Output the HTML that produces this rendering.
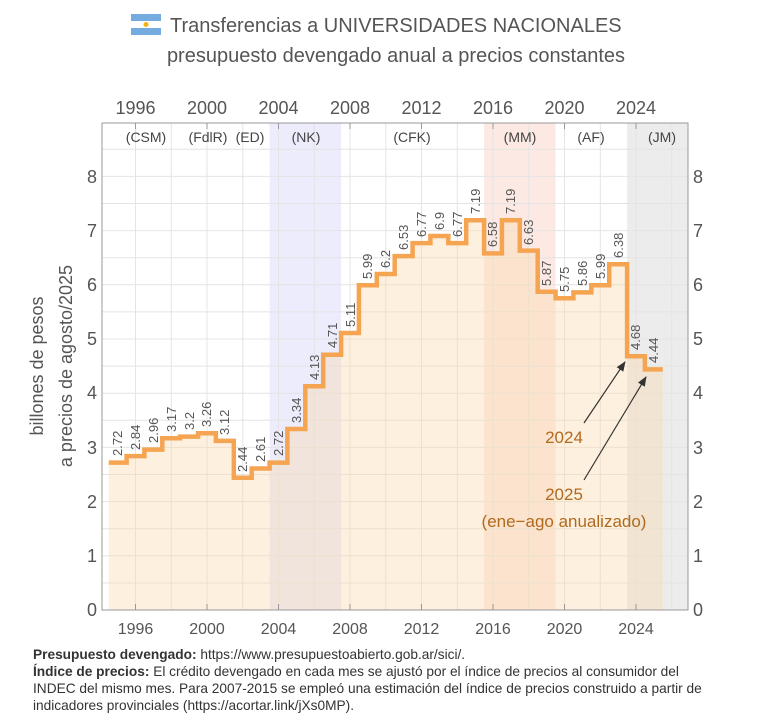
<!DOCTYPE html>
<html><head><meta charset="utf-8"><style>
body{margin:0;background:#fff;}
svg{display:block;font-family:"Liberation Sans",sans-serif;}
</style></head><body>
<svg width="760" height="727" viewBox="0 0 760 727" xmlns="http://www.w3.org/2000/svg">
<g>
<rect x="131" y="14" width="30" height="7" fill="#74acdf"/>
<rect x="131" y="21" width="30" height="7" fill="#fff"/>
<rect x="131" y="28" width="30" height="7" fill="#74acdf"/>
<circle cx="146" cy="24.5" r="2.5" fill="#f6b40e"/>
</g>
<text x="170" y="32" font-size="20" fill="#555">Transferencias a UNIVERSIDADES NACIONALES</text>
<text x="396" y="62" font-size="20" fill="#555" text-anchor="middle">presupuesto devengado anual a precios constantes</text>

<rect x="269.6" y="123" width="71.5" height="487" fill="#e6e6fb" opacity="0.75"/>
<rect x="484.1" y="123" width="71.5" height="487" fill="#fde3dc" opacity="0.8"/>
<rect x="627.1" y="123" width="61" height="487" fill="#e6e6e6" opacity="0.75"/>

<g stroke="#e4e4e4" stroke-width="1">
<line x1="102" x2="688" y1="583" y2="583"/><line x1="102" x2="688" y1="555.8" y2="555.8"/>
<line x1="102" x2="688" y1="528.7" y2="528.7"/><line x1="102" x2="688" y1="501.6" y2="501.6"/>
<line x1="102" x2="688" y1="474.5" y2="474.5"/><line x1="102" x2="688" y1="447.4" y2="447.4"/>
<line x1="102" x2="688" y1="420.3" y2="420.3"/><line x1="102" x2="688" y1="393.2" y2="393.2"/>
<line x1="102" x2="688" y1="366.1" y2="366.1"/><line x1="102" x2="688" y1="339" y2="339"/>
<line x1="102" x2="688" y1="311.9" y2="311.9"/><line x1="102" x2="688" y1="284.8" y2="284.8"/>
<line x1="102" x2="688" y1="257.7" y2="257.7"/><line x1="102" x2="688" y1="230.6" y2="230.6"/>
<line x1="102" x2="688" y1="203.5" y2="203.5"/><line x1="102" x2="688" y1="176.4" y2="176.4"/>
<line x1="102" x2="688" y1="149.3" y2="149.3"/>
<line y1="123" y2="610" x1="135.5" x2="135.5"/><line y1="123" y2="610" x1="171.3" x2="171.3"/>
<line y1="123" y2="610" x1="207" x2="207"/><line y1="123" y2="610" x1="242.8" x2="242.8"/>
<line y1="123" y2="610" x1="278.5" x2="278.5"/><line y1="123" y2="610" x1="314.3" x2="314.3"/>
<line y1="123" y2="610" x1="350" x2="350"/><line y1="123" y2="610" x1="385.8" x2="385.8"/>
<line y1="123" y2="610" x1="421.5" x2="421.5"/><line y1="123" y2="610" x1="457.3" x2="457.3"/>
<line y1="123" y2="610" x1="493" x2="493"/><line y1="123" y2="610" x1="528.8" x2="528.8"/>
<line y1="123" y2="610" x1="564.5" x2="564.5"/><line y1="123" y2="610" x1="600.3" x2="600.3"/>
<line y1="123" y2="610" x1="636" x2="636"/><line y1="123" y2="610" x1="671.8" x2="671.8"/>
</g>

<path d="M108.7,610 V462.6 H126.6 V456.1 H144.4 V449.6 H162.3 V438.2 H180.2 V436.6 H198.1 V433.3 H215.9 V440.9 H233.8 V477.8 H251.7 V468.5 H269.6 V462.6 H287.4 V429 H305.3 V386.2 H323.2 V354.7 H341.1 V333 H358.9 V285.3 H376.8 V274 H394.7 V256.1 H412.6 V243.1 H430.4 V236 H448.3 V243.1 H466.2 V220.3 H484.1 V253.4 H501.9 V220.3 H519.8 V250.6 H537.7 V291.8 H555.6 V298.3 H573.4 V292.4 H591.3 V285.3 H609.2 V264.2 H627.1 V356.3 H644.9 V369.4 H662.8 V610 Z" fill="#fbd9b0" opacity="0.4"/>

<rect x="102" y="123" width="586" height="487" fill="none" stroke="#999" stroke-width="1"/>
<g stroke="#999">
<line x1="135.5" x2="135.5" y1="610" y2="604"/><line x1="207" x2="207" y1="610" y2="604"/><line x1="278.5" x2="278.5" y1="610" y2="604"/><line x1="350" x2="350" y1="610" y2="604"/><line x1="421.5" x2="421.5" y1="610" y2="604"/><line x1="493" x2="493" y1="610" y2="604"/><line x1="564.5" x2="564.5" y1="610" y2="604"/><line x1="636" x2="636" y1="610" y2="604"/>
<line x1="135.5" x2="135.5" y1="123" y2="129"/><line x1="207" x2="207" y1="123" y2="129"/><line x1="278.5" x2="278.5" y1="123" y2="129"/><line x1="350" x2="350" y1="123" y2="129"/><line x1="421.5" x2="421.5" y1="123" y2="129"/><line x1="493" x2="493" y1="123" y2="129"/><line x1="564.5" x2="564.5" y1="123" y2="129"/><line x1="636" x2="636" y1="123" y2="129"/>
</g>

<path d="M108.7,462.6 H126.6 V456.1 H144.4 V449.6 H162.3 V438.2 H180.2 V436.6 H198.1 V433.3 H215.9 V440.9 H233.8 V477.8 H251.7 V468.5 H269.6 V462.6 H287.4 V429 H305.3 V386.2 H323.2 V354.7 H341.1 V333 H358.9 V285.3 H376.8 V274 H394.7 V256.1 H412.6 V243.1 H430.4 V236 H448.3 V243.1 H466.2 V220.3 H484.1 V253.4 H501.9 V220.3 H519.8 V250.6 H537.7 V291.8 H555.6 V298.3 H573.4 V292.4 H591.3 V285.3 H609.2 V264.2 H627.1 V356.3 H644.9 V369.4 H662.8" fill="none" stroke="#f5a452" stroke-width="4.5"/>

<g font-size="13" fill="#555">
<text transform="translate(122,456) rotate(-90)">2.72</text>
<text transform="translate(140,450) rotate(-90)">2.84</text>
<text transform="translate(158,443) rotate(-90)">2.96</text>
<text transform="translate(176,432) rotate(-90)">3.17</text>
<text transform="translate(194,430) rotate(-90)">3.2</text>
<text transform="translate(211,427) rotate(-90)">3.26</text>
<text transform="translate(229,435) rotate(-90)">3.12</text>
<text transform="translate(247,472) rotate(-90)">2.44</text>
<text transform="translate(265,462) rotate(-90)">2.61</text>
<text transform="translate(283,456) rotate(-90)">2.72</text>
<text transform="translate(301,423) rotate(-90)">3.34</text>
<text transform="translate(319,380) rotate(-90)">4.13</text>
<text transform="translate(337,348) rotate(-90)">4.71</text>
<text transform="translate(355,327) rotate(-90)">5.11</text>
<text transform="translate(372,279) rotate(-90)">5.99</text>
<text transform="translate(390,268) rotate(-90)">6.2</text>
<text transform="translate(408,250) rotate(-90)">6.53</text>
<text transform="translate(426,237) rotate(-90)">6.77</text>
<text transform="translate(444,230) rotate(-90)">6.9</text>
<text transform="translate(462,237) rotate(-90)">6.77</text>
<text transform="translate(480,214) rotate(-90)">7.19</text>
<text transform="translate(497,247) rotate(-90)">6.58</text>
<text transform="translate(515,214) rotate(-90)">7.19</text>
<text transform="translate(533,245) rotate(-90)">6.63</text>
<text transform="translate(551,286) rotate(-90)">5.87</text>
<text transform="translate(569,292) rotate(-90)">5.75</text>
<text transform="translate(587,286) rotate(-90)">5.86</text>
<text transform="translate(605,279) rotate(-90)">5.99</text>
<text transform="translate(623,258) rotate(-90)">6.38</text>
<text transform="translate(640,350) rotate(-90)">4.68</text>
<text transform="translate(658,363) rotate(-90)">4.44</text>
</g>

<g font-size="14" fill="#444" text-anchor="middle">
<text x="146" y="142">(CSM)</text><text x="208" y="142">(FdlR)</text><text x="250" y="142">(ED)</text>
<text x="306" y="142">(NK)</text><text x="412" y="142">(CFK)</text><text x="520" y="142">(MM)</text>
<text x="591" y="142">(AF)</text><text x="662" y="142">(JM)</text>
</g>

<g font-size="18" fill="#555" text-anchor="middle">
<text x="135.5" y="114">1996</text><text x="207" y="114">2000</text><text x="278.5" y="114">2004</text><text x="350" y="114">2008</text><text x="421.5" y="114">2012</text><text x="493" y="114">2016</text><text x="564.5" y="114">2020</text><text x="636" y="114">2024</text>
</g>
<g font-size="16" fill="#555" text-anchor="middle">
<text x="135.5" y="634">1996</text><text x="207" y="634">2000</text><text x="278.5" y="634">2004</text><text x="350" y="634">2008</text><text x="421.5" y="634">2012</text><text x="493" y="634">2016</text><text x="564.5" y="634">2020</text><text x="636" y="634">2024</text>
</g>
<g font-size="18" fill="#555" text-anchor="end">
<text x="97" y="616">0</text><text x="97" y="562">1</text><text x="97" y="508">2</text><text x="97" y="454">3</text><text x="97" y="399">4</text><text x="97" y="345">5</text><text x="97" y="291">6</text><text x="97" y="237">7</text><text x="97" y="183">8</text>
</g>
<g font-size="18" fill="#555">
<text x="693" y="616">0</text><text x="693" y="562">1</text><text x="693" y="508">2</text><text x="693" y="454">3</text><text x="693" y="399">4</text><text x="693" y="345">5</text><text x="693" y="291">6</text><text x="693" y="237">7</text><text x="693" y="183">8</text>
</g>
<g font-size="18" fill="#555" text-anchor="middle">
<text transform="translate(43,366) rotate(-90)">billones de pesos</text>
<text transform="translate(72,366) rotate(-90)">a precios de agosto/2025</text>
</g>

<defs><marker id="ah" markerWidth="10" markerHeight="8" refX="9" refY="4" orient="auto" markerUnits="userSpaceOnUse"><path d="M0,0 L10,4 L0,8 z" fill="#333"/></marker></defs>
<line x1="584" y1="423" x2="625" y2="362" stroke="#333" stroke-width="1.2" marker-end="url(#ah)"/>
<line x1="584" y1="480" x2="646" y2="377" stroke="#333" stroke-width="1.2" marker-end="url(#ah)"/>
<g font-size="17" fill="#b06a1e" text-anchor="middle">
<text x="564" y="443">2024</text><text x="564" y="500">2025</text><text x="564" y="527">(ene−ago anualizado)</text>
</g>

<g font-size="13.7" fill="#333">
<text x="33" y="659"><tspan font-weight="bold">Presupuesto devengado:</tspan> https://www.presupuestoabierto.gob.ar/sici/.</text>
<text x="33" y="676"><tspan font-weight="bold">Índice de precios:</tspan> El crédito devengado en cada mes se ajustó por el índice de precios al consumidor del</text>
<text x="33" y="693">INDEC del mismo mes. Para 2007-2015 se empleó una estimación del índice de precios construido a partir de</text>
<text x="33" y="710">indicadores provinciales (https://acortar.link/jXs0MP).</text>
</g>
</svg>
</body></html>
